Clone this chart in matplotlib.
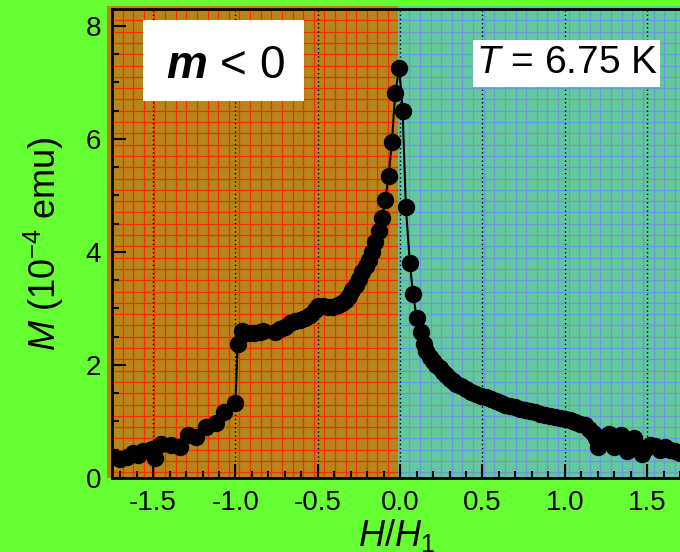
import numpy as np
import matplotlib
matplotlib.use("Agg")
import matplotlib.pyplot as plt
from matplotlib.patches import Rectangle
from matplotlib.ticker import MultipleLocator, FormatStrFormatter

plt.rcParams['font.family'] = ['Liberation Sans', 'DejaVu Sans']
plt.rcParams['mathtext.fontset'] = 'custom'
plt.rcParams['mathtext.rm'] = 'Liberation Sans'
plt.rcParams['mathtext.it'] = 'Liberation Sans:italic'
plt.rcParams['mathtext.bf'] = 'Liberation Sans:bold:italic'
plt.rcParams['axes.unicode_minus'] = False

# ---- data (H/H1, M in 1e-4 emu) ----
h_vals = [-1.742, -1.70, -1.66, -1.62, -1.59, -1.56, -1.51, -1.49, -1.45, -1.39,
          -1.34, -1.29, -1.24, -1.18, -1.12, -1.07, -1.00,
          -0.987, -0.963, -0.92, -0.89, -0.85, -0.835, -0.76, -0.73, -0.70, -0.67,
          -0.64, -0.61, -0.58, -0.55, -0.52,
          -0.50, -0.47, -0.44, -0.41, -0.38, -0.35, -0.33, -0.31, -0.29, -0.27,
          -0.25, -0.23, -0.21, -0.19, -0.17, -0.15, -0.13, -0.11, -0.09, -0.07,
          -0.05, -0.03, -0.005, 0.015, 0.035, 0.059, 0.079, 0.10, 0.124, 0.146,
          0.16, 0.18, 0.20, 0.22, 0.24, 0.26, 0.28, 0.30, 0.32, 0.34, 0.37, 0.40,
          0.43, 0.46, 0.49, 0.52, 0.55, 0.58, 0.61, 0.64, 0.67, 0.70, 0.73, 0.76,
          0.79, 0.82, 0.85, 0.88, 0.91, 0.94, 0.97, 1.00, 1.03, 1.06, 1.09, 1.12,
          1.15, 1.17, 1.19, 1.20, 1.22, 1.25, 1.27, 1.29, 1.30, 1.32, 1.34, 1.36,
          1.38, 1.40, 1.42, 1.44, 1.47, 1.49, 1.52, 1.55, 1.58, 1.61, 1.64, 1.67,
          1.70]
m_vals = [0.37, 0.33, 0.38, 0.44, 0.41, 0.48, 0.52, 0.35, 0.61, 0.58,
          0.55, 0.76, 0.73, 0.91, 0.97, 1.17, 1.32,
          2.37, 2.60, 2.57, 2.56, 2.58, 2.60, 2.59, 2.63, 2.68, 2.74,
          2.77, 2.80, 2.84, 2.88, 2.97,
          3.04, 3.05, 3.02, 3.03, 3.06, 3.10, 3.15, 3.22, 3.32, 3.42,
          3.52, 3.65, 3.76, 3.86, 4.00, 4.18, 4.38, 4.60, 4.92, 5.35,
          5.94, 6.81, 7.25, 6.50, 4.79, 3.81, 3.25, 2.84, 2.59, 2.37,
          2.25, 2.15, 2.07, 2.00, 1.94, 1.88, 1.82, 1.76, 1.71, 1.67, 1.62, 1.57,
          1.53, 1.49, 1.46, 1.43, 1.40, 1.37, 1.33, 1.30, 1.27, 1.25, 1.22, 1.20,
          1.18, 1.17, 1.14, 1.12, 1.10, 1.08, 1.06, 1.04, 1.02, 0.99, 0.96, 0.93,
          0.87, 0.80, 0.70, 0.55, 0.62, 0.74, 0.78, 0.66, 0.54, 0.68, 0.76, 0.60,
          0.48, 0.62, 0.70, 0.56, 0.42, 0.52, 0.58, 0.56, 0.50, 0.54, 0.50, 0.47,
          0.45]

x_ticks = [-1.5, -1.0, -0.5, 0.0, 0.5, 1.0, 1.5]
y_ticks = [0, 2, 4, 6, 8]

W, H = 680, 552
fig = plt.figure(figsize=(W / 100, H / 100), dpi=100, facecolor='#66FF33')
ax_l, ax_b, ax_t = 112 / W, (H - 478) / H, (H - 9) / H
ax = fig.add_axes([ax_l, ax_b, 1.0 - ax_l, ax_t - ax_b])
ax.set_facecolor('none')
ax.set_xlim(-1.75, 1.70)
ax.set_ylim(0, 8.3)

orange = '#B5861A'
teal = '#62C99A'
red = '#FF2A00'
blue = '#6F95E6'
split = -0.013

ax.add_patch(Rectangle((-1.78, 0), split + 1.78, 8.36, facecolor=orange,
                       edgecolor='none', zorder=0, clip_on=False))
ax.add_patch(Rectangle((split, 0), 2.0, 8.36, facecolor=teal,
                       edgecolor='none', zorder=0, clip_on=False))

gx = np.arange(-1.75, 1.75, 0.0645)
gy = np.arange(0.1, 8.4, 0.2)
ax.vlines(gx[gx < split], 0, 8.36, colors=red, lw=0.9, zorder=0.3)
ax.vlines(gx[gx > split], 0, 8.36, colors=blue, lw=0.9, zorder=0.3)
ax.hlines(gy, -1.75, split, colors=red, lw=0.9, zorder=0.3)
ax.hlines(gy, split, 1.75, colors=blue, lw=0.9, zorder=0.3)

ax.set_xticks(x_ticks)
ax.set_yticks(y_ticks)
ax.xaxis.set_major_formatter(FormatStrFormatter('%.1f'))
ax.xaxis.set_minor_locator(MultipleLocator(0.1))
ax.yaxis.set_minor_locator(MultipleLocator(0.5))
ax.tick_params(which='both', direction='in', top=False, right=False,
               width=1.5, labelsize=20, colors='black')
ax.tick_params(which='major', length=10)
ax.tick_params(which='minor', length=5)
ax.tick_params(axis='x', pad=9)
ax.tick_params(axis='y', pad=8)
ax.grid(axis='x', which='major', color='black', linestyle=(0, (1, 2)), lw=1.0, zorder=0.6)

for s in ['left', 'bottom', 'top']:
    ax.spines[s].set_linewidth(2)
    ax.spines[s].set_color('black')
ax.spines['right'].set_visible(False)

ax.plot(h_vals, m_vals, '-o', color='black', lw=1.5, ms=11.5, zorder=3)

ax.set_xlabel(r'$H/H_1$', fontsize=26, labelpad=0)
ax.set_ylabel(r'$M$ (10$^{-4}$ emu)', fontsize=26, labelpad=14)

ax.add_patch(Rectangle((0.0546, 0.804), 0.338 - 0.0546, 0.9765 - 0.804,
                       transform=ax.transAxes, facecolor='white',
                       edgecolor='none', zorder=4))
ax.text(0.199, 0.878, r'$\mathbf{m}$ < 0', transform=ax.transAxes,
        fontsize=33, ha='center', va='center', zorder=5)

ax.add_patch(Rectangle((0.636, 0.834), 0.965 - 0.636, 0.934 - 0.834,
                       transform=ax.transAxes, facecolor='white',
                       edgecolor='none', zorder=4))
ax.text(0.801, 0.884, r'$T$ = 6.75 K', transform=ax.transAxes,
        fontsize=28, ha='center', va='center', zorder=5)

fig.savefig('out.png', dpi=100, facecolor=fig.get_facecolor())
